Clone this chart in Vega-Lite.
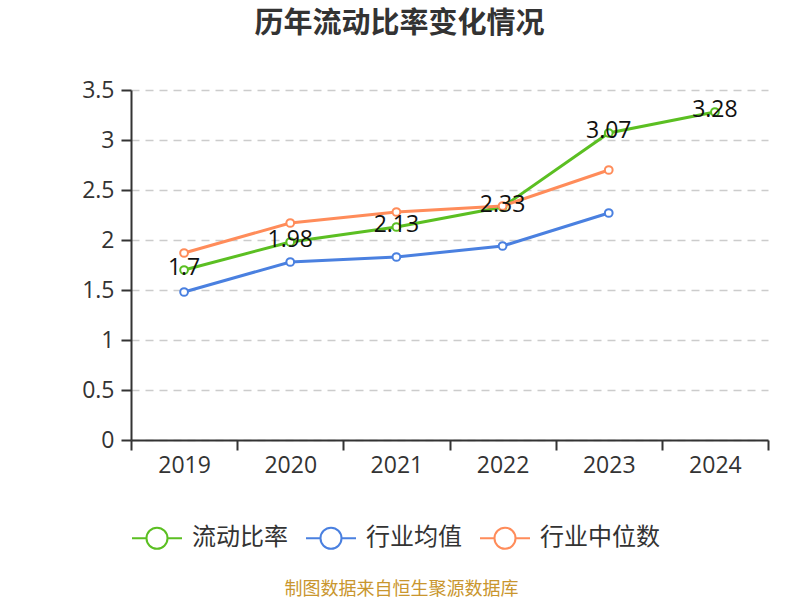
{
  "$schema": "https://vega.github.io/schema/vega-lite/v6.json",
  "width": 637,
  "height": 350,
  "autosize": "none",
  "padding": {"left": 131, "top": 90, "right": 32, "bottom": 160},
  "background": "white",
  "config": {
    "font": "Open Sans, Noto Sans CJK SC",
    "view": {"stroke": null}
  },
  "title": {
    "text": "历年流动比率变化情况",
    "fontSize": 29,
    "fontWeight": "bold",
    "color": "#333333",
    "font": "Noto Sans CJK SC",
    "anchor": "middle",
    "frame": "group",
    "dx": -50,
    "offset": 40
  },
  "data": {
    "values": [
      {"year": "2019", "series": "流动比率", "value": 1.7},
      {"year": "2020", "series": "流动比率", "value": 1.98},
      {"year": "2021", "series": "流动比率", "value": 2.13},
      {"year": "2022", "series": "流动比率", "value": 2.33},
      {"year": "2023", "series": "流动比率", "value": 3.07},
      {"year": "2024", "series": "流动比率", "value": 3.28},
      {"year": "2019", "series": "行业均值", "value": 1.48},
      {"year": "2020", "series": "行业均值", "value": 1.78},
      {"year": "2021", "series": "行业均值", "value": 1.83},
      {"year": "2022", "series": "行业均值", "value": 1.94},
      {"year": "2023", "series": "行业均值", "value": 2.27},
      {"year": "2019", "series": "行业中位数", "value": 1.87},
      {"year": "2020", "series": "行业中位数", "value": 2.17},
      {"year": "2021", "series": "行业中位数", "value": 2.28},
      {"year": "2022", "series": "行业中位数", "value": 2.34},
      {"year": "2023", "series": "行业中位数", "value": 2.7}
    ]
  },
  "encoding": {
    "x": {
      "field": "year",
      "type": "ordinal",
      "bandPosition": 0.5,
      "scale": {"type": "band", "paddingInner": 0, "paddingOuter": 0},
      "axis": {
        "title": "制图数据来自恒生聚源数据库",
        "titleColor": "#c9962e",
        "titleFontSize": 18,
        "titleFontWeight": "normal",
        "titleFont": "Noto Sans CJK SC",
        "titleX": 270,
        "titleY": 149,
        "titleBaseline": "middle",
        "titleAnchor": "middle",
        "labelAngle": 0,
        "labelFontSize": 23,
        "labelColor": "#333333",
        "labelPadding": 4,
        "tickBand": "extent",
        "tickSize": 10,
        "tickColor": "#333333",
        "tickWidth": 2,
        "domainColor": "#333333",
        "domainWidth": 2,
        "grid": false
      }
    },
    "y": {
      "field": "value",
      "type": "quantitative",
      "scale": {"domain": [0, 3.5], "nice": false},
      "axis": {
        "title": null,
        "values": [0, 0.5, 1, 1.5, 2, 2.5, 3, 3.5],
        "format": ".1~f",
        "labelFontSize": 23,
        "labelColor": "#333333",
        "labelPadding": 7,
        "tickSize": 10,
        "tickColor": "#333333",
        "tickWidth": 2,
        "domainColor": "#333333",
        "domainWidth": 2,
        "grid": true,
        "gridColor": "#cccccc",
        "gridWidth": 1.5,
        "gridDash": [8, 6]
      }
    }
  },
  "layer": [
    {
      "mark": {"type": "line", "interpolate": "linear", "strokeWidth": 3},
      "encoding": {
        "color": {
          "field": "series",
          "type": "nominal",
          "sort": ["流动比率", "行业均值", "行业中位数"],
          "scale": {
            "domain": ["流动比率", "行业均值", "行业中位数"],
            "range": ["#5bbf22", "#4a80e0", "#ff8c5a"]
          },
          "legend": {
            "title": null,
            "orient": "none",
            "direction": "horizontal",
            "legendX": 0,
            "legendY": 422,
            "symbolType": "M-1,0L-0.42,0M0.42,0L1,0M-0.42,0A0.42,0.42 0 1,1 0.42,0A0.42,0.42 0 1,1 -0.42,0",
            "symbolSize": 2500,
            "symbolStrokeWidth": 2,
            "symbolFillColor": "white",
            "labelFontSize": 24,
            "labelFont": "Noto Sans CJK SC",
            "labelColor": "#333333",
            "labelOffset": 9,
            "columnPadding": 14
          }
        }
      }
    },
    {
      "mark": {"type": "point", "filled": true, "fill": "white", "size": 60, "strokeWidth": 2, "opacity": 1},
      "encoding": {
        "stroke": {
          "field": "series",
          "type": "nominal",
          "scale": {
            "domain": ["流动比率", "行业均值", "行业中位数"],
            "range": ["#5bbf22", "#4a80e0", "#ff8c5a"]
          },
          "legend": null
        }
      }
    },
    {
      "transform": [{"filter": "datum.series == '流动比率'"}],
      "mark": {"type": "text", "fontSize": 23, "color": "#111111", "baseline": "middle", "dy": -2},
      "encoding": {
        "text": {"field": "value", "type": "quantitative", "format": ".2~f"}
      }
    }
  ]
}
